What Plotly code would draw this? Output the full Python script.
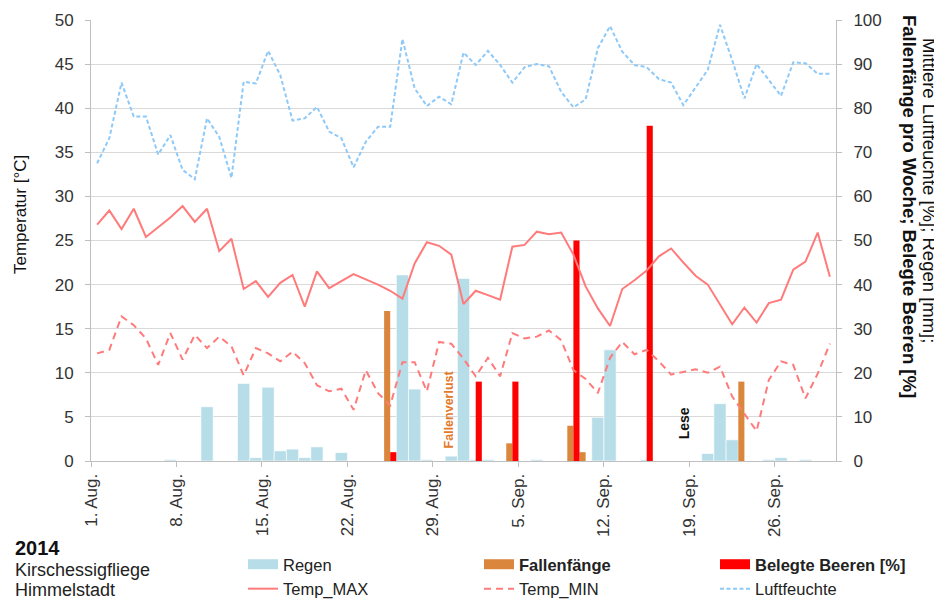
import pandas as pd
import plotly.graph_objects as go

# ---------------- data ----------------
days = pd.date_range("2014-08-01 12:00", periods=61, freq="D")

temp_max = [26.8, 28.4, 26.3, 28.6, 25.4, 26.5, 27.6, 28.9, 27.1, 28.6,
            23.8, 25.2, 19.5, 20.4, 18.6, 20.2, 21.1, 17.5, 21.5, 19.6,
            20.4, 21.2, 20.6, 20.0, 19.3, 18.4, 22.4, 24.8, 24.4, 23.4,
            17.8, 19.3, 18.8, 18.3, 24.3, 24.5, 26.0, 25.7, 25.9, 23.4,
            19.8, 17.3, 15.3, 19.5, 20.5, 21.6, 23.2, 24.1, 22.5, 21.0,
            20.0, 17.8, 15.5, 17.4, 15.7, 17.9, 18.3, 21.7, 22.6, 25.9,
            20.9]

temp_min = [12.2, 12.6, 16.4, 15.4, 13.9, 10.9, 14.5, 11.5, 14.3, 12.8,
            14.1, 13.0, 9.7, 12.8, 12.2, 11.3, 12.4, 11.1, 8.6, 7.9,
            8.2, 5.8, 10.3, 7.7, 6.3, 11.2, 11.2, 7.9, 13.5, 13.3,
            11.6, 9.6, 11.7, 9.6, 14.5, 13.9, 14.1, 14.8, 13.7, 10.3,
            9.3, 7.7, 11.7, 13.5, 12.1, 12.6, 11.3, 9.8, 10.1, 10.4,
            10.0, 10.7, 7.3, 5.4, 3.4, 9.2, 11.3, 10.9, 7.1, 9.9,
            13.3]

luftfeuchte = [67.5, 73.2, 85.8, 78.1, 78.1, 69.5, 73.9, 66.0, 63.9, 77.7,
               73.5, 64.2, 86.0, 85.6, 93.0, 87.5, 77.2, 77.7, 80.3, 74.7,
               73.2, 66.6, 72.4, 75.8, 75.8, 95.7, 84.5, 80.5, 82.6, 80.9,
               92.6, 89.8, 93.0, 89.8, 85.8, 89.3, 90.0, 89.5, 83.7, 80.2,
               82.0, 93.6, 98.6, 92.8, 89.8, 89.3, 86.6, 85.8, 80.7, 84.7,
               88.7, 98.9, 90.9, 82.2, 90.0, 86.4, 82.8, 90.4, 90.2, 87.8,
               87.8]

regen = [None, None, None, None, None, None, 0.3, None, None, 12.3,
         None, None, 17.6, 0.75, 16.7, 2.3, 2.7, 0.75, 3.2, None,
         1.9, None, None, None, None, 42.2, 16.3, 0.3, None, 1.1,
         41.4, 0.3, 0.3, None, None, None, 0.3, None, None, None,
         None, 9.9, 25.2, None, None, 0.3, None, None, None, None,
         1.7, 13.0, 4.8, None, None, 0.3, 0.75, None, 0.3, None,
         None]

fallen = [None] * 61
fallen[24] = 34
fallen[34] = 4
fallen[39] = 8
fallen[40] = 2
fallen[53] = 18

beeren = [None] * 61
beeren[24] = 2
beeren[31] = 18
beeren[34] = 18
beeren[39] = 50
beeren[45] = 76

tick_dates = ["2014-08-01", "2014-08-08", "2014-08-15", "2014-08-22", "2014-08-29",
              "2014-09-05", "2014-09-12", "2014-09-19", "2014-09-26"]
tick_labels = ["1. Aug.", "8. Aug.", "15. Aug.", "22. Aug.", "29. Aug.",
               "5. Sep.", "12. Sep.", "19. Sep.", "26. Sep."]

# ---------------- styles ----------------
FONT = "Liberation Sans, Arial, sans-serif"
C_RAIN = "#B7DDE8"
C_FALL = "#DA873D"
C_BEER = "#FF0000"
C_TEMP = "#FF7B7B"
C_HUM = "#8EC9F8"
C_AXIS = "#BFBFBF"
C_TXT = "#333333"
DAY = 86400000

OFF = 8                      # page body margin of the html page
W, H = 942 - OFF, 600 - OFF
L, R, T, B = 91 - OFF, 106, 20 - OFF, 139
PW, PH = W - L - R, H - T - B


def px(xp):
    """page x pixel -> paper coordinate"""
    return (xp - OFF - L) / PW


def py(yp):
    """page y pixel -> paper coordinate"""
    return (H - B - (yp - OFF)) / PH


fig = go.Figure()

# bars on right axis (primary y)
fig.add_trace(go.Bar(x=days, y=regen, width=DAY, offset=-DAY / 2,
                     marker=dict(color=C_RAIN, line=dict(color="white", width=0.6)),
                     name="Regen", showlegend=False, yaxis="y"))
fig.add_trace(go.Bar(x=days, y=fallen, width=DAY / 2, offset=-DAY / 2,
                     marker=dict(color=C_FALL, line=dict(width=0)),
                     name="Fallenfänge", showlegend=False, yaxis="y"))
fig.add_trace(go.Bar(x=days, y=beeren, width=DAY / 2, offset=0,
                     marker=dict(color=C_BEER, line=dict(width=0)),
                     name="Belegte Beeren [%]", showlegend=False, yaxis="y"))

fig.add_trace(go.Scatter(x=days, y=luftfeuchte, mode="lines",
                         line=dict(color=C_HUM, width=2, dash="4px,2.5px"),
                         name="Luftfeuchte", legend="legend3", yaxis="y"))

fig.add_trace(go.Scatter(x=days, y=temp_max, mode="lines",
                         line=dict(color=C_TEMP, width=2),
                         name="Temp_MAX", legend="legend", yaxis="y2"))
fig.add_trace(go.Scatter(x=days, y=temp_min, mode="lines",
                         line=dict(color=C_TEMP, width=2, dash="7px,5px"),
                         name="Temp_MIN", legend="legend2", yaxis="y2"))

# legend keys for the bar series (wide boxes like the original)
for nm, col, lg in [("Regen", C_RAIN, "legend"),
                    ("<b>Fallenfänge</b>", C_FALL, "legend2"),
                    ("<b>Belegte Beeren [%]</b>", C_BEER, "legend3")]:
    fig.add_trace(go.Scatter(x=[None], y=[None], mode="lines",
                             line=dict(color=col, width=10),
                             name=nm, legend=lg, yaxis="y", legendrank=1))

legend_common = dict(orientation="v", xanchor="left", yanchor="top",
                     bgcolor="rgba(0,0,0,0)", font=dict(family=FONT, size=16.5, color="#222"),
                     itemwidth=30, tracegroupgap=0, traceorder="normal")

LEG_TOP = 547   # page y of legend box top
fig.update_layout(
    width=W, height=H,
    margin=dict(l=L, r=R, t=T, b=B, pad=0, autoexpand=False),
    paper_bgcolor="white", plot_bgcolor="white",
    font=dict(family=FONT, size=17, color=C_TXT),
    barmode="overlay",
    showlegend=True,
    legend=dict(x=px(243), y=py(LEG_TOP), **legend_common),
    legend2=dict(x=px(479), y=py(LEG_TOP), **legend_common),
    legend3=dict(x=px(715), y=py(LEG_TOP), **legend_common),
    xaxis=dict(type="date", range=["2014-08-01", "2014-10-01"],
               tickvals=tick_dates, ticktext=tick_labels, tickangle=-90,
               ticks="outside", ticklen=5, tickcolor=C_AXIS,
               showline=True, linecolor=C_AXIS, linewidth=1,
               showgrid=False, zeroline=False,
               tickfont=dict(family=FONT, size=17, color=C_TXT)),
    yaxis=dict(side="right", range=[0, 100], dtick=10, tick0=0,
               showgrid=True, gridcolor="#D9D9D9", gridwidth=1,
               showline=True, linecolor=C_AXIS, linewidth=1,
               ticks="outside", ticklen=5, tickcolor=C_AXIS,
               zeroline=False, ticklabelstandoff=8,
               tickfont=dict(family=FONT, size=17, color=C_TXT)),
    yaxis2=dict(overlaying="y", side="left", range=[0, 50], dtick=5, tick0=0,
                showgrid=False, showline=True, linecolor=C_AXIS, linewidth=1,
                ticks="outside", ticklen=5, tickcolor=C_AXIS,
                zeroline=False, ticklabelstandoff=8,
                tickfont=dict(family=FONT, size=17, color=C_TXT)),
)

annotations = [
    # axis titles
    dict(text="Temperatur [°C]", xref="paper", yref="paper", x=px(20), y=py(215),
         textangle=-90, showarrow=False, font=dict(size=17, color="#111"),
         xanchor="center", yanchor="middle"),
    dict(text="Mittlere Luftfeuchte [%]; Regen [mm];", xref="paper", yref="paper",
         x=px(929), y=py(190), textangle=90, showarrow=False,
         font=dict(size=18.5, color="#111"), xanchor="center", yanchor="middle"),
    dict(text="<b>Fallenfänge pro Woche; Belegte Beeren [%]</b>", xref="paper", yref="paper",
         x=px(910), y=py(206), textangle=90, showarrow=False,
         font=dict(size=18.5, color="#111"), xanchor="center", yanchor="middle"),
    # in-plot notes
    dict(text="<b>Fallenverlust</b>", xref="x", yref="y", x="2014-08-30 08:24", y=11.8,
         textangle=-90, showarrow=False, font=dict(size=12.5, color="#E3792A"),
         xanchor="center", yanchor="middle"),
    dict(text="<b>Lese</b>", xref="x", yref="y", x="2014-09-18 13:40", y=8.6,
         textangle=-90, showarrow=False, font=dict(size=14, color="#111"),
         xanchor="center", yanchor="middle"),
    # left info block
    dict(text="<b>2014</b>", xref="paper", yref="paper", x=px(13), y=py(548),
         showarrow=False, font=dict(size=20, color="#111"), xanchor="left", yanchor="middle"),
    dict(text="Kirschessigfliege", xref="paper", yref="paper", x=px(13), y=py(570),
         showarrow=False, font=dict(size=18, color="#222"), xanchor="left", yanchor="middle"),
    dict(text="Himmelstadt", xref="paper", yref="paper", x=px(13), y=py(590),
         showarrow=False, font=dict(size=18, color="#222"), xanchor="left", yanchor="middle"),
]
fig.update_layout(annotations=annotations)

fig.write_html("out.html")
